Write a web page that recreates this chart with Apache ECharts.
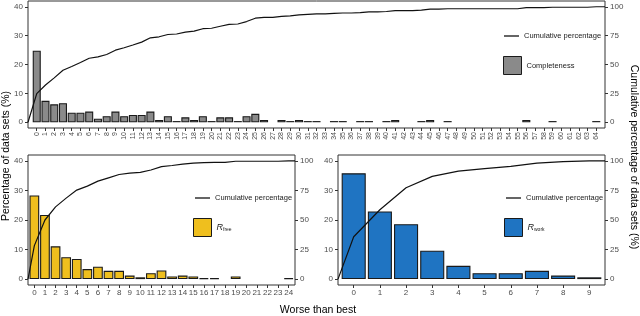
<!DOCTYPE html>
<html>
<head>
<meta charset="utf-8">
<script src="https://cdn.jsdelivr.net/npm/echarts@6/dist/echarts.min.js"></script>
<style>
  html, body { margin: 0; padding: 0; background: #fff; }
  #chart { width: 640px; height: 316px; }
</style>
</head>
<body>
<div id="chart"></div>
<script>
// top panel, completeness (ranks 0..64)
const completenessRanks = [0,1,2,3,4,5,6,7,8,9,10,11,12,13,14,15,16,17,18,19,20,21,22,23,24,25,26,27,28,29,30,31,32,33,34,35,36,37,38,39,40,41,42,43,44,45,46,47,48,49,50,51,52,53,54,55,56,57,58,59,60,61,62,63,64]
const completeness = [24.8,7.4,6.2,6.6,3.3,3.3,3.7,1.2,2.1,3.7,2.1,2.5,2.5,3.7,0.8,2.1,0.4,1.7,0.8,2.1,0.4,1.7,1.7,0.4,2.1,2.9,0.8,null,0.8,0.4,0.8,0.4,0.4,null,0.4,0.4,null,0.4,0.4,null,0.4,0.8,null,null,0.4,0.8,null,0.4,null,null,null,null,null,null,null,null,0.8,null,null,0.4,null,null,null,null,0.4]
const completenessCum = [24.8,32.2,38.4,45.0,48.3,51.7,55.4,56.6,58.7,62.4,64.5,66.9,69.4,73.1,74.0,76.0,76.4,78.1,78.9,81.0,81.4,83.1,84.7,85.1,87.2,90.1,90.9,90.9,91.7,92.1,93.0,93.4,93.8,93.8,94.2,94.6,94.6,95.0,95.5,95.5,95.9,96.7,96.7,96.7,97.1,97.9,97.9,98.3,98.3,98.3,98.3,98.3,98.3,98.3,98.3,98.3,99.2,99.2,99.2,99.6,99.6,99.6,99.6,99.6,100]

// bottom left, Rfree (ranks 0..24)
const rfreeRanks = [0,1,2,3,4,5,6,7,8,9,10,11,12,13,14,15,16,17,18,19,20,21,22,23,24]
const rfree = [28.3,21.7,11.1,7.4,6.8,3.4,4.2,2.8,2.8,1.2,0.6,2.0,2.9,0.9,1.2,0.9,0.3,0.3,null,0.9,null,null,null,null,0.3]
const rfreeCum = [28.3,50.0,61.1,68.5,75.3,78.7,82.9,85.7,88.5,89.7,90.3,92.3,95.2,96.1,97.3,98.2,98.5,98.8,98.8,99.7,99.7,99.7,99.7,99.7,100]

// bottom right, Rwork (ranks 0..9)
const rworkRanks = [0,1,2,3,4,5,6,7,8,9]
const rwork = [35.8,22.9,18.6,9.6,4.5,2.0,2.0,2.8,1.2,0.6]
const rworkCum = [35.8,58.7,77.3,86.9,91.4,93.4,95.4,98.2,99.4,100]

const leftTicks = [0,10,20,30,40]
const rightTicks = [0,25,50,75,100]

const FONT = '"Liberation Sans", Arial, sans-serif'
const LABEL_GREY = '#4d4d4d'
const EDGE = '#1a1a1a'

function barData(ranks, values) {
  return ranks.map((r, i) => [r, values[i]]).filter(d => d[1] != null)
}

// line starts at 0 on the left edge and runs flat to the right edge
function cumData(ranks, cum, pad) {
  const pts = ranks.map((r, i) => [r, cum[i]])
  return [[ranks[0] - pad, 0], ...pts, [ranks[ranks.length - 1] + pad, cum[cum.length - 1]]]
}

function xAxisFor(gridIndex, ranks, pad, fontSize, rotate) {
  return {
    type: 'value',
    gridIndex,
    min: ranks[0] - pad,
    max: ranks[ranks.length - 1] + pad,
    axisLine: { show: false, onZero: false },
    splitLine: { show: false },
    axisTick: { show: true, length: 3, customValues: ranks, lineStyle: { color: '#333' } },
    axisLabel: {
      customValues: ranks,
      fontSize,
      rotate,
      color: LABEL_GREY,
      margin: 4,
      formatter: v => String(v)
    }
  }
}

function yAxesFor(gridIndex) {
  return [
    {
      type: 'value', gridIndex, position: 'left', min: -2, max: 42,
      axisLine: { show: false, onZero: false }, splitLine: { show: false },
      axisTick: { show: true, length: 3, customValues: leftTicks, lineStyle: { color: '#333' } },
      axisLabel: { customValues: leftTicks, fontSize: 8, color: LABEL_GREY, margin: 5 }
    },
    {
      type: 'value', gridIndex, position: 'right', min: -5, max: 105,
      axisLine: { show: false, onZero: false }, splitLine: { show: false },
      axisTick: { show: true, length: 3, customValues: rightTicks, lineStyle: { color: '#333' } },
      axisLabel: { customValues: rightTicks, fontSize: 8, color: LABEL_GREY, margin: 5 }
    }
  ]
}

function barSeries(name, idx, ranks, values, color) {
  return {
    name, type: 'bar', xAxisIndex: idx, yAxisIndex: idx * 2,
    data: barData(ranks, values),
    barWidth: '92%',
    itemStyle: { color, borderColor: EDGE, borderWidth: 1.1 }
  }
}

function lineSeries(idx, ranks, cum, pad) {
  return {
    name: 'Cumulative percentage', type: 'line', xAxisIndex: idx, yAxisIndex: idx * 2 + 1,
    data: cumData(ranks, cum, pad),
    symbol: 'none', showSymbol: false,
    color: '#111',
    lineStyle: { color: '#111', width: 1.2 },
    z: 5
  }
}

function lineLegend(left, top) {
  return {
    data: ['Cumulative percentage'], left, top, padding: 0,
    icon: 'rect', itemWidth: 15, itemHeight: 1.3, selectedMode: false,
    itemStyle: { color: '#111', borderWidth: 0 },
    textStyle: { fontSize: 7.5, color: EDGE, fontFamily: FONT }
  }
}

function boxLegend(name, left, top, formatter) {
  return {
    data: [name], left, top, padding: 0, icon: 'rect',
    itemWidth: 18, itemHeight: 18, selectedMode: false,
    itemStyle: { borderColor: EDGE, borderWidth: 1 },
    formatter,
    textStyle: {
      fontSize: 7.5, color: EDGE, fontFamily: FONT,
      rich: {
        i: { fontStyle: 'italic', fontSize: 9, color: EDGE, fontFamily: FONT },
        s: { fontSize: 5, color: EDGE, fontFamily: FONT, verticalAlign: 'bottom', padding: [4, 0, 0, 0] }
      }
    }
  }
}

const chart = echarts.init(document.getElementById('chart'))

const option = {
  animation: false,
  textStyle: { fontFamily: FONT },
  grid: [
    { left: 28, top: 1, width: 577, height: 127, show: true, borderColor: '#333', borderWidth: 1 },
    { left: 28, top: 155, width: 267, height: 130, show: true, borderColor: '#333', borderWidth: 1 },
    { left: 338, top: 155, width: 267, height: 130, show: true, borderColor: '#333', borderWidth: 1 }
  ],
  xAxis: [
    xAxisFor(0, completenessRanks, 1, 7, 90),
    xAxisFor(1, rfreeRanks, 0.6, 8, 0),
    xAxisFor(2, rworkRanks, 0.6, 8, 0)
  ],
  yAxis: [...yAxesFor(0), ...yAxesFor(1), ...yAxesFor(2)],
  legend: [
    lineLegend(504, 32),
    boxLegend('Completeness', 503, 56),
    lineLegend(195, 194),
    boxLegend('Rfree', 193, 218, () => '{i|R}{s|free}'),
    lineLegend(506, 194),
    boxLegend('Rwork', 504, 218, () => '{i|R}{s|work}')
  ],
  series: [
    barSeries('Completeness', 0, completenessRanks, completeness, '#8a8a8a'),
    lineSeries(0, completenessRanks, completenessCum, 1),
    barSeries('Rfree', 1, rfreeRanks, rfree, '#efbf1e'),
    lineSeries(1, rfreeRanks, rfreeCum, 0.6),
    barSeries('Rwork', 2, rworkRanks, rwork, '#1f74c2'),
    lineSeries(2, rworkRanks, rworkCum, 0.6)
  ],
  graphic: [
    {
      type: 'text', x: 318, y: 310,
      style: { text: 'Worse than best', font: '10.5px ' + FONT, fill: '#000', align: 'center', verticalAlign: 'middle' }
    },
    {
      type: 'text', x: 6, y: 156, rotation: Math.PI / 2,
      style: { text: 'Percentage of data sets (%)', font: '10.5px ' + FONT, fill: '#000', align: 'center', verticalAlign: 'middle' }
    },
    {
      type: 'text', x: 634, y: 157, rotation: -Math.PI / 2,
      style: { text: 'Cumulative percentage of data sets (%)', font: '10.5px ' + FONT, fill: '#000', align: 'center', verticalAlign: 'middle' }
    }
  ]
}

chart.setOption(option)
window.addEventListener('resize', () => chart.resize())
</script>
</body>
</html>
